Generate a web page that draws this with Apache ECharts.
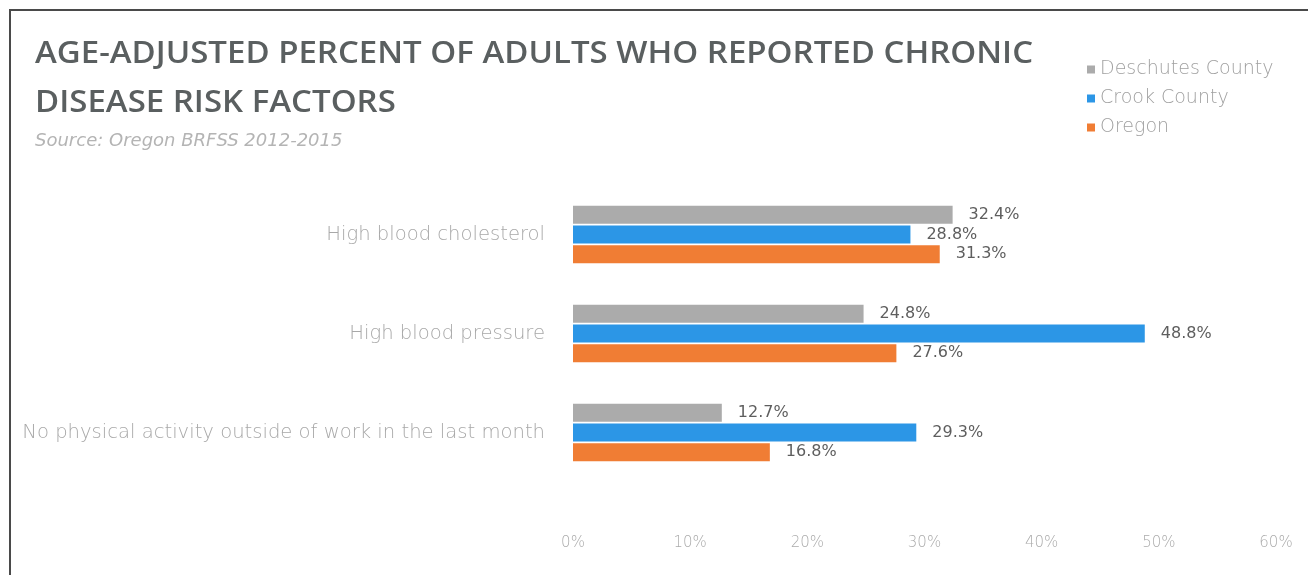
<!DOCTYPE html>
<html>
<head>
<meta charset="utf-8">
<script src="https://cdn.jsdelivr.net/npm/echarts@6/dist/echarts.min.js"></script>
<style>
html,body{margin:0;padding:0;background:#fff;}
#chart{width:1308px;height:575px;}
</style>
</head>
<body>
<div id="chart"></div>
<script>
var categories = ['High blood cholesterol', 'High blood pressure', 'No physical activity outside of work in the last month'];
var seriesNames = ['Deschutes County', 'Crook County', 'Oregon'];
var deschutes = [32.4, 24.8, 12.7];
var crook = [28.8, 48.8, 29.3];
var oregon = [31.3, 27.6, 16.8];
var colors = ['#ABABAB', '#2C96E6', '#F07D34'];
var xTicks = [0, 10, 20, 30, 40, 50, 60];

var chart = echarts.init(document.getElementById('chart'));
var values = [deschutes, crook, oregon];
var series = seriesNames.map(function (name, i) {
  return {
    name: name,
    type: 'bar',
    data: values[i],
    barWidth: 18,
    barGap: '10%',
    itemStyle: { color: colors[i] },
    label: {
      show: true,
      position: 'right',
      distance: 16,
      color: '#5e5e5e',
      fontFamily: 'DejaVu Sans',
      fontSize: 16,
      formatter: function (p) { return p.value.toFixed(1) + '%'; }
    }
  };
});

chart.setOption({
  animation: false,
  backgroundColor: '#ffffff',
  graphic: [
    { type: 'polyline', shape: { points: [[10, 575], [10, 10], [1308, 10]] }, style: { stroke: '#4a4a4a', lineWidth: 2, fill: null } },
    { type: 'text', x: 35, y: 39, scaleX: 1.1, style: { text: 'AGE-ADJUSTED PERCENT OF ADULTS WHO REPORTED CHRONIC', font: '600 30px "Open Sans"', fill: '#5a5f60' } },
    { type: 'text', x: 35, y: 88, scaleX: 1.1, style: { text: 'DISEASE RISK FACTORS', font: '600 30px "Open Sans"', fill: '#5a5f60' } },
    { type: 'text', x: 35, y: 132, style: { text: 'Source: Oregon BRFSS 2012-2015', font: 'italic 18px "DejaVu Sans"', fill: '#b4b4b4' } }
  ],
  legend: {
    orient: 'vertical',
    left: 1082,
    top: 55,
    itemWidth: 8,
    itemHeight: 8,
    itemGap: 10,
    icon: 'rect',
    data: seriesNames,
    textStyle: { color: '#a0a0a0', fontSize: 19, fontFamily: 'DejaVu Sans', fontWeight: 200 }
  },
  grid: { left: 573, right: 32, top: 185, bottom: 93, containLabel: false },
  xAxis: {
    type: 'value',
    min: 0,
    max: 60,
    interval: 10,
    axisLine: { show: false },
    axisTick: { show: false },
    splitLine: { show: false },
    axisLabel: {
      margin: 54,
      color: '#ababab',
      fontSize: 15,
      fontFamily: 'DejaVu Sans',
      fontWeight: 200,
      formatter: '{value}%'
    }
  },
  yAxis: {
    type: 'category',
    inverse: true,
    data: categories,
    axisLine: { show: false },
    axisTick: { show: false },
    axisLabel: { margin: 28, color: '#a8a8a8', fontSize: 19.6, fontFamily: 'DejaVu Sans', fontWeight: 200 }
  },
  series: series
});
</script>
</body>
</html>
